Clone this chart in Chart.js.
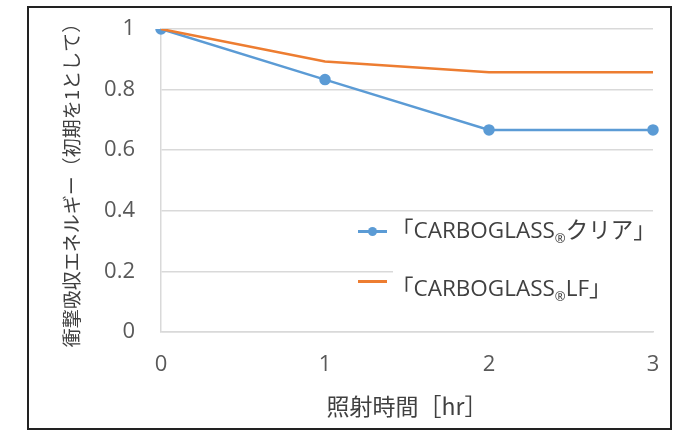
<!DOCTYPE html>
<html>
<head>
<meta charset="utf-8">
<script src="https://cdn.jsdelivr.net/npm/chart.js@4"></script>
<style>
body { margin:0; background:#fff; }
#wrap { position:relative; width:700px; height:435px; }
#frame { position:absolute; left:27px; top:6px; width:641px; height:420px; border:2px solid #222; box-sizing:content-box; pointer-events:none; }
#legendBox { position:absolute; left:393px; top:216px; width:262px; height:98px; background:#fff; }
#legend { position:absolute; left:0; top:0; font-family:"Open Sans","Noto Sans CJK JP",sans-serif; font-size:22.5px; color:#404040; }
.item { position:absolute; white-space:nowrap; line-height:30px; }
.sw { position:absolute; height:2.5px; width:29px; }
.dot { position:absolute; left:10px; top:-3px; width:9px; height:9px; border-radius:50%; background:#5B9BD5; }
.r { font-size:13px; position:relative; top:5px; }
</style>
</head>
<body>
<div id="wrap">
<canvas id="c" width="700" height="435"></canvas>
<div id="frame"></div>
<div id="legendBox"></div>
<div id="legend">
  <span class="sw" style="left:358px; top:230px; background:#5B9BD5"><span class="dot"></span></span>
  <div class="item" style="left:391px; top:215px">「CARBOGLASS<span class="r">®</span>クリア」</div>
  <span class="sw" style="left:358px; top:280px; background:#ED7D31"></span>
  <div class="item" style="left:391px; top:273px">「CARBOGLASS<span class="r">®</span>LF」</div>
</div>
</div>
<script>
const hours = ['0', '1', '2', '3'];
const clear = [1, 0.833, 0.667, 0.667];
const lf = [1, 0.893, 0.857, 0.857];
const yTicks = [0, 0.2, 0.4, 0.6, 0.8, 1];

const tickFont = { family: "'Open Sans', 'Noto Sans', sans-serif", size: 22 };
const jpFont = "'Noto Sans CJK JP', sans-serif";

new Chart(document.getElementById('c'), {
  type: 'line',
  data: {
    labels: hours,
    datasets: [
      { label: '「CARBOGLASS®LF」', data: lf, borderColor: '#ED7D31', borderWidth: 2.5, pointRadius: 0, tension: 0 },
      { label: '「CARBOGLASS®クリア」', data: clear, borderColor: '#5B9BD5', backgroundColor: '#5B9BD5', borderWidth: 2.5, pointRadius: 4.5, tension: 0 }
    ]
  },
  options: {
    responsive: false,
    animation: false,
    layout: { padding: { left: 60, right: 47, top: 29, bottom: 15 } },
    plugins: { legend: { display: false }, tooltip: { enabled: false } },
    scales: {
      x: {
        grid: { display: false, drawTicks: false },
        border: { color: '#D9D9D9', width: 1.5 },
        ticks: { color: '#595959', font: tickFont, padding: 20, maxRotation: 0 },
        title: { display: true, text: '照射時間［hr］', color: '#404040', font: { family: jpFont, size: 23 }, padding: 0 },
        afterFit: s => { s.height = 88; s.paddingLeft = 0; s.paddingRight = 0; }
      },
      y: {
        min: 0, max: 1,
        afterBuildTicks: s => { s.ticks = yTicks.map(v => ({ value: v })); },
        grid: { color: '#D9D9D9', lineWidth: 1.5, drawTicks: false },
        border: { color: '#D9D9D9', width: 1.5 },
        ticks: { color: '#595959', font: tickFont, padding: 26, callback: v => String(v) },
        title: { display: true, text: '衝撃吸収エネルギー（初期を1として）', color: '#404040', font: { family: jpFont, size: 19 }, padding: 0 },
        afterFit: s => { s.width = 101; s.paddingTop = 0; s.paddingBottom = 0; }
      }
    }
  }
});
</script>
</body>
</html>
